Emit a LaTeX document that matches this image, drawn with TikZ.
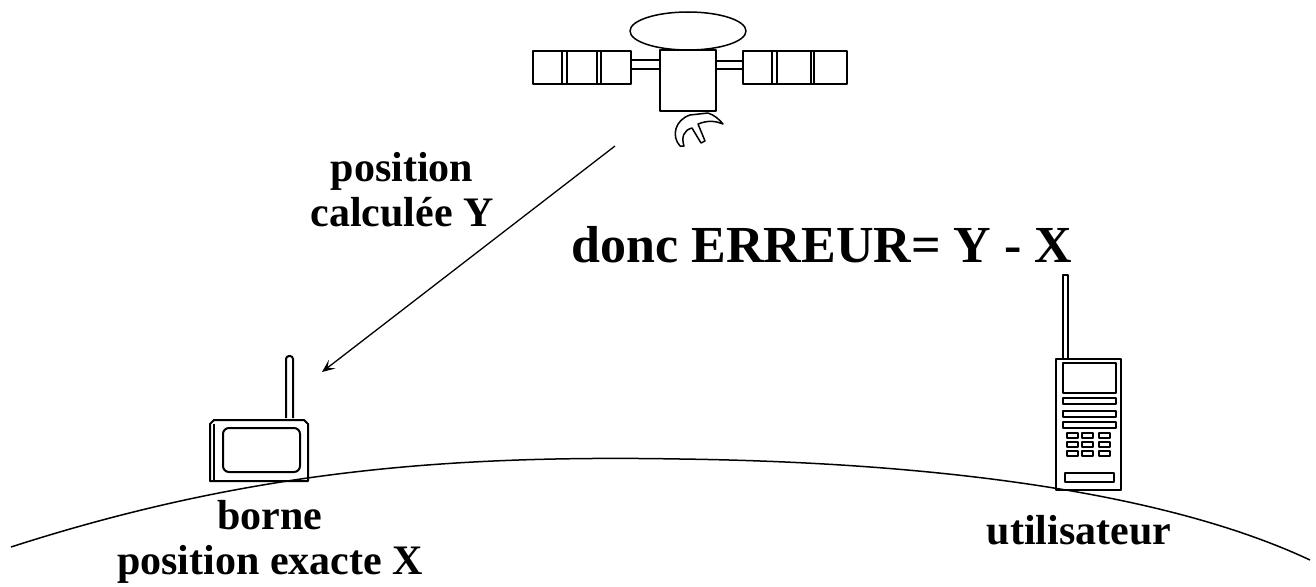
\documentclass[tikz,border=0pt]{standalone}
\usepackage{fontspec}
\setmainfont{Liberation Serif}
\usetikzlibrary{arrows.meta}
\tikzset{>={Stealth[length=13pt,width=11pt,inset=6pt]}}
\tikzset{label/.style={font=\bfseries\fontsize{42}{45}\selectfont, align=center, inner sep=0pt}}

\begin{document}
\begin{tikzpicture}[x=1pt, y=-1pt, line width=1.5pt, line join=round]
    \useasboundingbox (0,0) rectangle (1316,586);
    % satellite: antenna dish, body, arms and solar panels
    \draw (688,31) ellipse [x radius=58, y radius=19];
    \draw[fill=white] (660,50) rectangle (716,111);
    \draw (631,60) -- (660,60) (631,69) -- (660,69);
    \draw (716,61) -- (743,61) (716,69) -- (743,69);
    \draw (533,51) rectangle (631,84);
    \draw (743,51) rectangle (847,84);
    \foreach \x in {562, 567, 597, 601, 772, 777, 811, 814}
        \draw (\x,51) -- (\x,84);
    \draw (680,146) .. controls (671,136) and (675,120) .. (690,115) -- (708,113)
        .. controls (714,115) and (719,119) .. (723,124)
        .. controls (716,121) and (708,120) .. (698,124) -- (705,141) -- (701,143)
        -- (692,128) .. controls (684,130) and (681,137) .. (684,146) -- cycle;
    % borne
    \draw[line width=2pt, rounded corners=3pt] (286,418) -- (286,356) -- (293,356) -- (293,418);
    \draw[line width=2pt] (210,481) -- (210,424) -- (214,420) -- (304,420) -- (308,424) -- (308,481) -- cycle;
    \draw[line width=1.5pt] (214,424) -- (214,481);
    \draw[line width=2pt, rounded corners=6pt] (223,428) rectangle (300,472);
    % utilisateur
    \draw[line width=2pt] (1063,359) -- (1063,275) -- (1068,275) -- (1068,359);
    \draw[line width=2.5pt] (1056,359) rectangle (1121,490);
    \draw (1063,363) rectangle (1116,393);
    \foreach \y in {398, 411, 422}
        \draw (1063,\y) rectangle (1116,\y+6);
    \foreach \x in {1067, 1082, 1099}
        \foreach \y in {433, 442, 451}
            \draw (\x,\y) rectangle (\x+11,\y+5);
    \draw (1065,473) rectangle (1114,482);
    % ground
    \draw (11,547) .. controls (250,470) and (450,455) .. (680,459)
        .. controls (900,462) and (1150,485) .. (1310,560);
    % texts
    \node[label] (calc) at (402,190) {position\\calculée Y};
    \node[label, font=\bfseries\fontsize{52}{56}\selectfont] (erreur) at (822,245) {donc ERREUR= Y - X};
    \node[label] (borne) at (270,542) {borne\\position exacte X};
    \node[label] (util) at (1079,530) {utilisateur};
    % computed position sent to the borne
    \coordinate (sat) at (615,146);
    \coordinate (rx) at (322,372);
    \draw[->, line width=1.3pt] (sat) -- (rx);
\end{tikzpicture}
\end{document}
